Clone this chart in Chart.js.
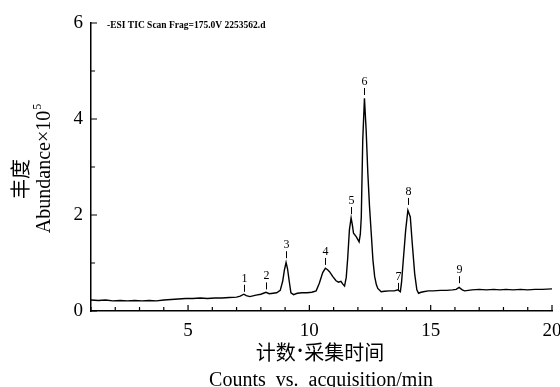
<!DOCTYPE html>
<html>
<head>
<meta charset="utf-8">
<script src="https://cdn.jsdelivr.net/npm/chart.js@4/dist/chart.umd.min.js"></script>
<style>
  html, body { margin: 0; padding: 0; background: #fff; }
  #box { width: 560px; height: 387px; }
</style>
</head>
<body>
<div id="box"><canvas id="tic"></canvas></div>
<script>
// retention time (min) and abundance (x10^5)
const times = [
  1.0, 1.3, 1.6, 1.9, 2.2, 2.5, 2.8, 3.1, 3.4, 3.7, 4.0, 4.3, 4.6, 4.9, 5.2, 5.5, 5.8, 6.1, 6.4, 6.7,
  7.0, 7.15, 7.3, 7.4, 7.55, 7.8, 8.0, 8.21, 8.35, 8.5, 8.65, 8.8, 8.9, 8.97, 9.04, 9.1, 9.17, 9.24,
  9.35, 9.5, 9.7, 9.9, 10.1, 10.28, 10.41, 10.55, 10.66, 10.75, 10.83, 10.96, 11.1, 11.2, 11.3, 11.38,
  11.45, 11.52, 11.58, 11.65, 11.72, 11.77, 11.82, 11.93, 12.05, 12.1, 12.14, 12.2, 12.27, 12.34,
  12.41, 12.48, 12.55, 12.62, 12.69, 12.76, 12.82, 12.96, 13.1, 13.3, 13.5, 13.65, 13.75, 13.8, 13.86,
  13.97, 14.06, 14.16, 14.24, 14.34, 14.43, 14.5, 14.6, 14.7, 14.9, 15.1, 15.4, 15.65, 15.9, 16.05,
  16.17, 16.3, 16.4, 16.7, 17.0, 17.3, 17.6, 17.85, 18.1, 18.4, 18.7, 19.0, 19.3, 19.6, 20.0
];
const abundance = [
  0.23, 0.22, 0.23, 0.21, 0.22, 0.21, 0.22, 0.21, 0.22, 0.21, 0.23, 0.24, 0.25, 0.26, 0.26, 0.27, 0.26, 0.27, 0.27, 0.28,
  0.29, 0.31, 0.35, 0.32, 0.30, 0.33, 0.35, 0.39, 0.36, 0.37, 0.38, 0.43, 0.62, 0.85, 1.01, 0.88, 0.62, 0.38,
  0.34, 0.37, 0.38, 0.38, 0.39, 0.42, 0.58, 0.80, 0.89, 0.86, 0.82, 0.72, 0.63, 0.60, 0.62, 0.56,
  0.52, 0.70, 1.10, 1.69, 1.94, 1.80, 1.62, 1.55, 1.44, 1.60, 1.96, 3.56, 4.43, 3.77,
  2.87, 2.17, 1.62, 1.06, 0.72, 0.55, 0.47, 0.40, 0.41, 0.42, 0.42, 0.44, 0.40, 0.60, 0.99,
  1.69, 2.10, 1.96, 1.41, 0.78, 0.44, 0.37, 0.39, 0.40, 0.42, 0.42, 0.43, 0.43, 0.44, 0.45,
  0.49, 0.44, 0.42, 0.44, 0.45, 0.44, 0.45, 0.44, 0.45, 0.44, 0.45, 0.44, 0.45, 0.45, 0.46
];

// peak numbers, their times and the level where each marker tick ends
const peakNames = ["1", "2", "3", "4", "5", "6", "7", "8", "9"];
const peakTimes = [7.31, 8.21, 9.04, 10.66, 11.70, 12.27, 13.65, 14.06, 16.17];
const peakMarks = [0.40, 0.45, 1.10, 0.96, 2.02, 4.50, 0.44, 2.21, 0.58];

const xMajor = [5, 10, 15, 20];
const yMajor = [0, 2, 4, 6];

const SERIF = "'Liberation Serif', 'DejaVu Serif', serif";
const CJK = "'Noto Sans CJK SC', sans-serif";

const decor = {
  id: "decor",
  afterDraw(chart) {
    const { ctx, chartArea, scales } = chart;
    const x = scales.x, y = scales.y;
    ctx.save();
    ctx.strokeStyle = "#000";
    ctx.lineWidth = 1.2;

    // inward ticks
    ctx.beginPath();
    for (let v = 1; v <= 20; v++) {
      const px = x.getPixelForValue(v);
      const len = xMajor.includes(v) ? 6 : 4;
      ctx.moveTo(px, chartArea.bottom);
      ctx.lineTo(px, chartArea.bottom - len);
    }
    for (let v = 0; v <= 6; v++) {
      const py = y.getPixelForValue(v);
      const len = yMajor.includes(v) ? 6 : 4;
      ctx.moveTo(chartArea.left, py);
      ctx.lineTo(chartArea.left + len, py);
    }
    ctx.stroke();

    // peak markers
    ctx.lineWidth = 1;
    ctx.font = "12px " + SERIF;
    ctx.fillStyle = "#000";
    ctx.textAlign = "center";
    ctx.textBaseline = "alphabetic";
    peakNames.forEach((name, i) => {
      const px = Math.round(x.getPixelForValue(peakTimes[i])) + 0.5;
      const py = y.getPixelForValue(peakMarks[i]);
      ctx.beginPath();
      ctx.moveTo(px, py);
      ctx.lineTo(px, py - 7);
      ctx.stroke();
      ctx.fillText(name, px, py - 10);
    });

    // scan header
    ctx.font = "bold 9.5px " + SERIF;
    ctx.textAlign = "left";
    ctx.textBaseline = "middle";
    ctx.fillText("-ESI TIC Scan Frag=175.0V 2253562.d", 107, 26);

    // x title, Chinese line with a narrow middle dot
    const cx = 320, cy = 352;
    ctx.font = "20px " + CJK;
    const a = "计数", b = "采集时间";
    const wa = ctx.measureText(a).width, wb = ctx.measureText(b).width;
    ctx.font = "20px " + SERIF;
    const wd = ctx.measureText("·").width + 2;
    let sx = cx - (wa + wd + wb) / 2;
    ctx.font = "20px " + CJK;
    ctx.fillText(a, sx, cy);
    ctx.font = "bold 20px " + SERIF;
    ctx.fillText("·", sx + wa + 1, cy);
    ctx.font = "20px " + CJK;
    ctx.fillText(b, sx + wa + wd, cy);

    ctx.textAlign = "center";
    ctx.font = "20px " + SERIF;
    ctx.textBaseline = "alphabetic";
    ctx.fillText("Counts  vs.  acquisition/min", 321, 386);

    // y title
    ctx.save();
    ctx.translate(20, 179);
    ctx.rotate(-Math.PI / 2);
    ctx.font = "20px " + CJK;
    ctx.textBaseline = "middle";
    ctx.fillText("丰度", 0, 0);
    ctx.restore();

    ctx.save();
    ctx.translate(45, 169);
    ctx.rotate(-Math.PI / 2);
    const main = "Abundance×10";
    ctx.font = "20px " + SERIF;
    const w1 = ctx.measureText(main).width;
    ctx.font = "12px " + SERIF;
    const w2 = ctx.measureText("5").width;
    const start = -(w1 + w2) / 2;
    ctx.textAlign = "left";
    ctx.textBaseline = "middle";
    ctx.font = "20px " + SERIF;
    ctx.fillText(main, start, 0);
    ctx.font = "12px " + SERIF;
    ctx.fillText("5", start + w1 + 1, -7);
    ctx.restore();

    ctx.restore();
  }
};

new Chart(document.getElementById("tic"), {
  type: "line",
  data: {
    datasets: [{
      data: times.map((t, i) => ({ x: t, y: abundance[i] })),
      borderColor: "#000",
      borderWidth: 1.4,
      pointRadius: 0,
      tension: 0,
      fill: false
    }]
  },
  options: {
    responsive: true,
    maintainAspectRatio: false,
    animation: false,
    layout: { padding: { top: 23, right: 8, left: 0, bottom: 0 } },
    plugins: {
      legend: { display: false },
      tooltip: { enabled: false }
    },
    scales: {
      x: {
        type: "linear",
        min: 1,
        max: 20,
        grid: { display: false, drawTicks: false },
        border: { display: true, color: "#000", width: 1.5 },
        ticks: {
          stepSize: 1,
          autoSkip: false,
          maxRotation: 0,
          padding: 9,
          color: "#000",
          font: { family: SERIF, size: 19 },
          callback: (v) => (xMajor.includes(v) ? String(v) : "")
        },
        afterFit: (s) => {
          s.height = 76;
          s.paddingLeft = 0;
          s.paddingRight = 0;
        }
      },
      y: {
        min: 0,
        max: 6,
        grid: { display: false, drawTicks: false },
        border: { display: true, color: "#000", width: 1.5 },
        ticks: {
          stepSize: 1,
          autoSkip: false,
          padding: 8,
          color: "#000",
          font: { family: SERIF, size: 19 },
          callback: (v) => (yMajor.includes(v) ? String(v) : "")
        },
        afterFit: (s) => {
          s.width = 91;
          s.paddingTop = 0;
          s.paddingBottom = 0;
        }
      }
    }
  },
  plugins: [decor]
});
</script>
</body>
</html>
